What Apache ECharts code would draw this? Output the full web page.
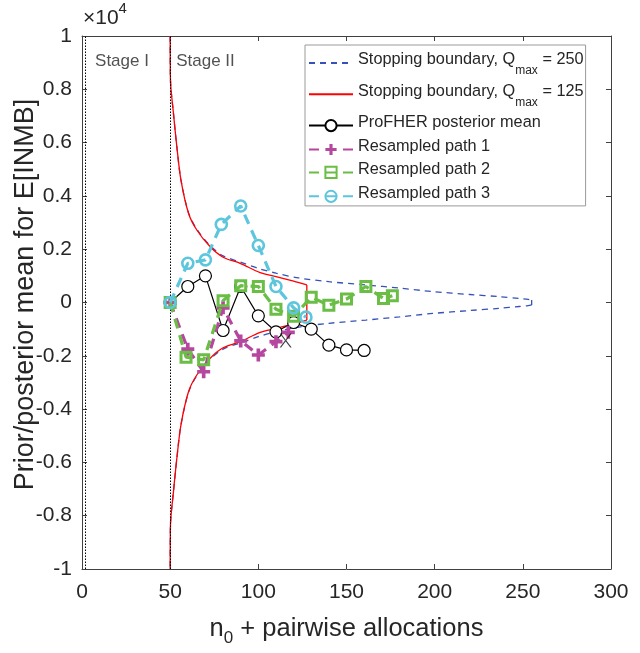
<!DOCTYPE html>
<html><head><meta charset="utf-8">
<script src="https://cdn.jsdelivr.net/npm/echarts@6.0.0/dist/echarts.min.js"></script>
<style>html,body{margin:0;padding:0;background:#fff}#c{width:640px;height:653px}</style>
</head><body><div id="c"></div>
<script>
// ---- Stopping boundary, Qmax = 250 (blue dashed) ----
const b250UpperX = [50, 50.17, 51.9, 53.8, 56.1, 60.4, 65.1, 72.7, 80, 89.7, 100, 110, 123, 140, 161, 180, 199, 220, 236.5, 248, 253, 255];
const b250UpperY = [1.0, 0.835, 0.708, 0.584, 0.46, 0.337, 0.275, 0.213, 0.175, 0.152, 0.128, 0.11, 0.092, 0.078, 0.066, 0.054, 0.041, 0.03, 0.022, 0.015, 0.012, 0.009];
const b250LowerX = [255, 253, 248, 236.5, 220, 199, 180, 161, 140, 123, 110, 100, 89.7, 80, 72.7, 65.1, 60.4, 56.1, 53.8, 51.9, 50.17, 50];
const b250LowerY = [-0.009, -0.012, -0.015, -0.022, -0.03, -0.041, -0.054, -0.066, -0.078, -0.092, -0.11, -0.128, -0.152, -0.175, -0.213, -0.275, -0.337, -0.46, -0.584, -0.708, -0.835, -1.0];
// ---- Stopping boundary, Qmax = 125 (red) ----
const b125UpperX = [50, 50.17, 51.9, 53.8, 56.1, 60.4, 65.1, 72.7, 80, 89.7, 101, 110, 120, 127.5];
const b125UpperY = [1.0, 0.835, 0.708, 0.584, 0.46, 0.335, 0.272, 0.209, 0.17, 0.147, 0.112, 0.097, 0.08, 0.066];
const b125LowerX = [127.5, 120, 110, 101, 89.7, 80, 72.7, 65.1, 60.4, 56.1, 53.8, 51.9, 50.17, 50];
const b125LowerY = [-0.066, -0.08, -0.097, -0.112, -0.147, -0.17, -0.209, -0.272, -0.335, -0.46, -0.584, -0.708, -0.835, -1.0];
// ---- ProFHER posterior mean ----
const proX = [50, 60, 70, 80, 90, 100, 110, 120, 130, 140, 150, 160];
const proY = [0, 0.06, 0.10, -0.105, 0.06, -0.05, -0.11, -0.075, -0.10, -0.16, -0.178, -0.18];
// ---- Resampled paths ----
const path1X = [50, 60, 69, 80, 90, 100, 110, 117];
const path1Y = [0, -0.175, -0.26, -0.02, -0.144, -0.197, -0.147, -0.112];
const path2X = [50, 59, 69, 80, 90, 100, 110, 120, 130, 140, 150, 161, 171, 176];
const path2Y = [0, -0.205, -0.215, 0.007, 0.063, 0.06, -0.025, -0.052, 0.02, -0.01, 0.013, 0.06, 0.015, 0.025];
const path3X = [50, 60, 70, 79, 90, 100, 110, 120, 127];
const path3Y = [0, 0.147, 0.16, 0.293, 0.362, 0.214, 0.06, -0.02, -0.055];
// stop marker "X"
const stopX = [115.5];
const stopY = [-0.143];
// stage dividers
const stageLineX = [2, 50];
// axis ticks
const xTicks = {min: 0, max: 300, interval: 50};
const yTicks = {min: -1, max: 1, interval: 0.2};

const names = ['Stopping boundary, Qmax = 250', 'Stopping boundary, Qmax = 125', 'ProFHER posterior mean', 'Resampled path 1', 'Resampled path 2', 'Resampled path 3'];

const zip = (xs, ys) => xs.map((x, i) => [x, ys[i]]);
const last = a => a[a.length - 1];
const FF = '"Liberation Sans", Arial, Helvetica, sans-serif';
const TXT = '#262626';
const AX = '#404040';
const cBlue = '#3552B8', cRed = '#FF0000', cMag = '#B5479F', cGreen = '#6ABD45', cCyan = '#5EC6DC';

const chart = echarts.init(document.getElementById('c'), null, {renderer: 'canvas'});

const xBase = {type: 'value', min: xTicks.min, max: xTicks.max, interval: xTicks.interval,
  axisLine: {show: true, onZero: false, lineStyle: {color: AX, width: 1}},
  axisTick: {show: true, inside: true, length: 5, lineStyle: {color: AX}},
  splitLine: {show: false}};
const yBase = {type: 'value', min: yTicks.min, max: yTicks.max, interval: yTicks.interval,
  axisLine: {show: true, onZero: false, lineStyle: {color: AX, width: 1}},
  axisTick: {show: true, inside: true, length: 5, lineStyle: {color: AX}},
  splitLine: {show: false}};

function boundarySeries(name, upX, upY, loX, loY, lineStyle, z) {
  const common = {name: name, type: 'line', symbol: 'circle', showSymbol: false, z: z,
    lineStyle: lineStyle, itemStyle: {color: lineStyle.color}, silent: true};
  return [
    Object.assign({}, common, {data: zip(upX, upY), smooth: 0.3}),
    Object.assign({}, common, {data: [[last(upX), last(upY)], [loX[0], loY[0]]]}),
    Object.assign({}, common, {data: zip(loX, loY), smooth: 0.3})
  ];
}

const option = {
  animation: false,
  backgroundColor: '#fff',
  textStyle: {fontFamily: FF},
  grid: {left: 82, right: 29, top: 36, bottom: 84, containLabel: false, outerBoundsMode: 'none'},
  xAxis: [
    Object.assign({}, xBase, {position: 'bottom',
      axisLabel: {show: true, fontSize: 21, color: TXT, margin: 13, fontFamily: FF},
      name: '{a|n}{s|0}{a| + pairwise allocations}', nameLocation: 'middle', nameGap: 47, nameMoveOverlap: false,
      nameTextStyle: {fontFamily: FF, color: TXT, rich: {
        a: {fontSize: 25.5, color: TXT, fontFamily: FF, verticalAlign: 'top', lineHeight: 28},
        s: {fontSize: 17, color: TXT, fontFamily: FF, verticalAlign: 'top', lineHeight: 18, padding: [14, 0, 0, 0]}}}}),
    Object.assign({}, xBase, {position: 'top', axisLabel: {show: false}})
  ],
  yAxis: [
    Object.assign({}, yBase, {position: 'left',
      axisLabel: {show: true, fontSize: 21, color: TXT, margin: 10, fontFamily: FF},
      name: 'Prior/posterior mean for E[INMB]', nameLocation: 'middle', nameGap: 43, nameMoveOverlap: false,
      nameTextStyle: {fontSize: 27, color: TXT, fontFamily: FF, padding: [0, 0, 0, 16]}}),
    Object.assign({}, yBase, {position: 'right', axisLabel: {show: false}})
  ],
  legend: {
    orient: 'vertical', left: 305, top: 45,
    padding: [7, 2, 3, 3], itemGap: 6.3, itemWidth: 44, itemHeight: 14,
    backgroundColor: '#fff', borderColor: '#9a9a9a', borderWidth: 1, borderRadius: 0,
    data: names.map((n, i) => i < 2 ? {name: n, itemStyle: {opacity: 0}} : {name: n}),
    formatter: function (n) {
      const m = n.match(/^Stopping boundary, Qmax = (\d+)$/);
      if (m) return '{t|Stopping boundary, Q}{s|max}{t| = ' + m[1] + '}';
      return '{t|' + n + '}';
    },
    textStyle: {fontSize: 16.3, color: TXT, fontFamily: FF, rich: {
      t: {fontSize: 16.3, color: TXT, fontFamily: FF, verticalAlign: 'top', lineHeight: 22},
      s: {fontSize: 12, color: TXT, fontFamily: FF, verticalAlign: 'top', lineHeight: 14, padding: [13, 0, 0, 0]}
    }}
  },
  graphic: [{
    type: 'text', left: 83, top: 1, silent: true,
    style: {text: '{a|×10}{s|4}', fontFamily: FF, rich: {
      a: {fontSize: 21, fill: TXT, fontFamily: FF, verticalAlign: 'top', padding: [7, 0, 0, 0], lineHeight: 22},
      s: {fontSize: 15, fill: TXT, fontFamily: FF, verticalAlign: 'top', lineHeight: 16}}}
  }],
  series: [].concat(
    boundarySeries(names[0], b250UpperX, b250UpperY, b250LowerX, b250LowerY, {color: cBlue, width: 1.3, type: [6, 5]}, 2),
    boundarySeries(names[1], b125UpperX, b125UpperY, b125LowerX, b125LowerY, {color: cRed, width: 1.3}, 3),
    [
    {name: names[2], type: 'line', data: zip(proX, proY), z: 4,
      symbol: 'circle', symbolSize: 12,
      itemStyle: {color: '#fff', borderColor: '#000', borderWidth: 1.2},
      lineStyle: {color: '#000', width: 1.2},
      markLine: {silent: true, symbol: ['none', 'none'], label: {show: false},
        lineStyle: {color: '#000', type: [1.5, 1.5], width: 1},
        data: stageLineX.map(v => ({xAxis: v}))}},
    {name: names[3], type: 'line', data: zip(path1X, path1Y), z: 5,
      symbol: 'path://M3.6,0H6.4V3.6H10V6.4H6.4V10H3.6V6.4H0V3.6H3.6Z', symbolSize: 13,
      itemStyle: {color: cMag}, lineStyle: {color: cMag, width: 3.2, type: [10, 7]}},
    {name: names[4], type: 'line', data: zip(path2X, path2Y), z: 6,
      symbol: 'rect', symbolSize: 10,
      itemStyle: {color: 'transparent', borderColor: cGreen, borderWidth: 3},
      lineStyle: {color: cGreen, width: 3.2, type: [10, 7]}},
    {name: names[5], type: 'line', data: zip(path3X, path3Y), z: 7,
      symbol: 'circle', symbolSize: 11,
      itemStyle: {color: 'transparent', borderColor: cCyan, borderWidth: 2.6},
      lineStyle: {color: cCyan, width: 3.2, type: [10, 7]}},
    {name: 'stop', type: 'scatter', data: zip(stopX, stopY), z: 8,
      symbol: 'path://M0,0H1.2L5,4.4L8.8,0H10L5.6,5L10,10H8.8L5,5.6L1.2,10H0L4.4,5Z', symbolSize: [12, 14],
      itemStyle: {color: '#111'}},
    {name: 'stages', type: 'scatter', z: 8, symbolSize: 0, silent: true,
      data: [{value: [7.4, 0.906], label: {formatter: 'Stage I'}}, {value: [53.4, 0.906], label: {formatter: 'Stage II'}}],
      label: {show: true, position: 'right', distance: 0, fontSize: 17, color: TXT, fontFamily: FF}}
  ])
};
chart.setOption(option);
</script>
</body></html>
